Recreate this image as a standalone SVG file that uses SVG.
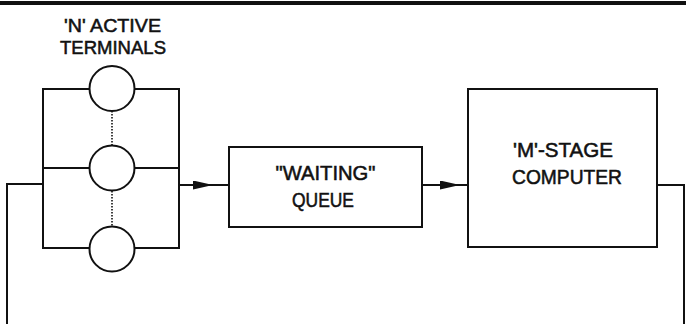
<svg xmlns="http://www.w3.org/2000/svg" width="686" height="324" viewBox="0 0 686 324">
  <style>
    .ln { fill: none; stroke: #111; stroke-width: 2; stroke-linecap: square; }
    .box { fill: #fff; stroke: #111; stroke-width: 2; }
    .dot { fill: none; stroke: #111; stroke-width: 1.6; stroke-dasharray: 1.5 1.5; }
    .lbl { font-family: "Liberation Sans", Arial, sans-serif; font-size: 20.5px; fill: #111; stroke: #111; stroke-width: 0.55; text-anchor: middle; }
    .hdr { font-size: 19px; }
  </style>
  <defs>
    <marker id="arrow" viewBox="0 0 20 9" refX="20" refY="4.5" markerWidth="20" markerHeight="9" markerUnits="userSpaceOnUse" orient="auto">
      <path d="M0,0 L20,4.5 L0,9 Z" fill="#111"/>
    </marker>
  </defs>

  <!-- heading rule -->
  <rect x="0" y="1" width="686" height="4" fill="#111"/>

  <!-- terminal bank -->
  <g id="terminals">
    <text class="lbl hdr" x="112.5" y="32" textLength="97" lengthAdjust="spacingAndGlyphs">'N' ACTIVE</text>
    <text class="lbl hdr" x="113" y="53.5" textLength="106" lengthAdjust="spacingAndGlyphs">TERMINALS</text>
    <path class="ln" d="M43,89 H179 M43,168 H179 M43,248 H179 M43,89 V248 M179,89 V248"/>
    <line class="dot" x1="112" y1="111" x2="112" y2="146"/>
    <line class="dot" x1="112" y1="191" x2="112" y2="226"/>
    <circle class="box" cx="112" cy="88.5" r="22.5"/>
    <circle class="box" cx="112" cy="168" r="22.5"/>
    <circle class="box" cx="112" cy="249" r="22.5"/>
  </g>

  <!-- waiting queue -->
  <g id="queue">
    <rect class="box" x="229" y="147" width="193" height="80"/>
    <text class="lbl" x="325.5" y="180" textLength="100" lengthAdjust="spacingAndGlyphs">"WAITING"</text>
    <text class="lbl" x="323" y="207" textLength="62" lengthAdjust="spacingAndGlyphs">QUEUE</text>
  </g>

  <!-- computer -->
  <g id="computer">
    <rect class="box" x="468" y="89" width="189" height="158"/>
    <text class="lbl" x="563" y="157" textLength="100" lengthAdjust="spacingAndGlyphs">'M'-STAGE</text>
    <text class="lbl" x="567" y="184" textLength="110" lengthAdjust="spacingAndGlyphs">COMPUTER</text>
  </g>

  <!-- connectors -->
  <g id="connectors">
    <polyline class="ln" points="179,185 213,185 228,185" marker-mid="url(#arrow)"/>
    <polyline class="ln" points="422,185 460,185 467,185" marker-mid="url(#arrow)"/>
    <path class="ln" d="M657,185 H684 V326"/>
    <path class="ln" d="M43,184 H7 V326"/>
  </g>
</svg>
